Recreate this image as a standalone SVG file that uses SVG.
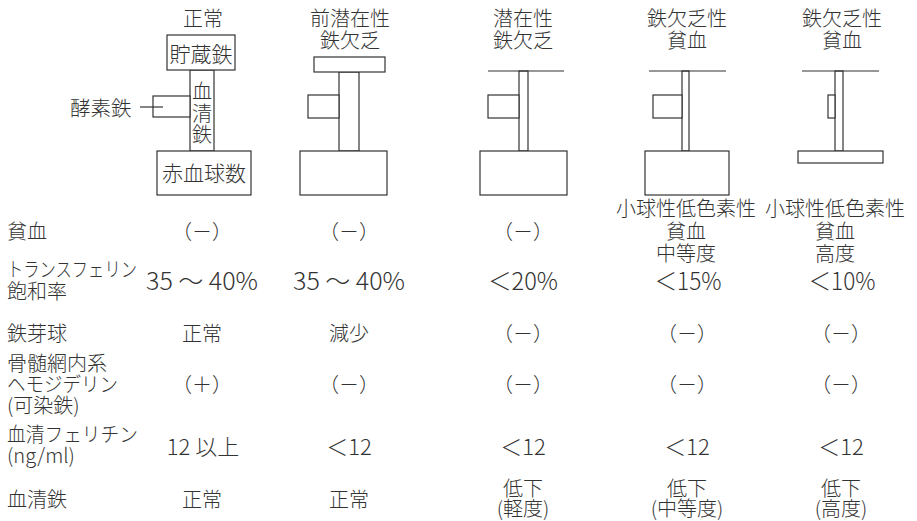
<svg xmlns="http://www.w3.org/2000/svg" width="917" height="521" viewBox="0 0 917 521">
<style>
text{font-family:"Noto Sans CJK JP","Noto Sans CJK SC",sans-serif;fill:#333;font-size:20px;font-weight:300}
.c{text-anchor:middle}
.num{font-size:24px}
.num2{font-size:22px}
.sh{fill:#fff;stroke:#333;stroke-width:1.2}
.ln{fill:none;stroke:#333;stroke-width:1.2}
</style>
<rect width="917" height="521" fill="#fff"/>
<g id="col-normal">
<text class="c" x="203" y="26">正常</text>
<rect class="sh" x="190" y="70" width="24" height="81"/>
<rect class="sh" x="167" y="35" width="68" height="35"/>
<text class="c" x="201" y="62" style="font-size:21px">貯蔵鉄</text>
<rect class="sh" x="153" y="96" width="37" height="21"/>
<rect class="sh" x="157" y="151" width="94" height="44"/>
<text class="c" x="204" y="181" style="font-size:21px">赤血球数</text>
<text class="c" x="202" y="99">血<tspan x="202" y="121">清</tspan><tspan x="202" y="142">鉄</tspan></text>
<text x="70" y="116" style="font-size:20.5px">酵素鉄</text>
</g>
<g id="col-prelatent">
<text class="c" x="350" y="26">前潜在性<tspan x="350" y="48">鉄欠乏</tspan></text>
<rect class="sh" x="339" y="72" width="20" height="79"/>
<rect class="sh" x="314" y="57" width="71" height="15"/>
<rect class="sh" x="308" y="95" width="31" height="23"/>
<rect class="sh" x="300" y="151" width="87" height="44"/>
</g>
<g id="col-latent">
<text class="c" x="523" y="26">潜在性<tspan x="523" y="48">鉄欠乏</tspan></text>
<rect class="sh" x="519" y="71" width="9" height="80"/>
<line class="ln" x1="488" y1="71" x2="564" y2="71"/>
<rect class="sh" x="488" y="95" width="31" height="23"/>
<rect class="sh" x="480" y="151" width="87" height="44"/>
</g>
<g id="col-ida-moderate">
<text class="c" x="687" y="26">鉄欠乏性<tspan x="687" y="48">貧血</tspan></text>
<rect class="sh" x="682" y="71" width="7" height="80"/>
<line class="ln" x1="649" y1="71" x2="726" y2="71"/>
<rect class="sh" x="653" y="95" width="29" height="23"/>
<rect class="sh" x="645" y="151" width="84" height="44"/>
</g>
<g id="col-ida-severe">
<text class="c" x="842" y="26">鉄欠乏性<tspan x="842" y="48">貧血</tspan></text>
<rect class="sh" x="835" y="71" width="8" height="80"/>
<line class="ln" x1="802" y1="71" x2="879" y2="71"/>
<rect class="sh" x="828" y="95" width="7" height="23"/>
<rect class="sh" x="798" y="151" width="85" height="12"/>
</g>
<g id="connectors">
<line class="ln" x1="140" y1="107" x2="163" y2="107"/>
</g>
<g id="row-anemia">
<text x="7" y="239">貧血</text>
<text class="c" x="202" y="239">（－）</text>
<text class="c" x="349" y="239">（－）</text>
<text class="c" x="523" y="239">（－）</text>
<text class="c" x="686" y="216">小球性低色素性<tspan x="686" y="238.5">貧血</tspan><tspan x="686" y="261">中等度</tspan></text>
<text class="c" x="835" y="216">小球性低色素性<tspan x="835" y="238.5">貧血</tspan><tspan x="835" y="261">高度</tspan></text>
</g>
<g id="row-transferrin">
<text x="7" y="277"><tspan textLength="130" lengthAdjust="spacingAndGlyphs">トランスフェリン</tspan><tspan x="7" y="299">飽和率</tspan></text>
<text class="c num" x="202" y="290" textLength="112" lengthAdjust="spacingAndGlyphs">35 〜 40%</text>
<text class="c num" x="349" y="290" textLength="112" lengthAdjust="spacingAndGlyphs">35 〜 40%</text>
<text class="c num" x="523" y="290" textLength="70" lengthAdjust="spacingAndGlyphs">＜20%</text>
<text class="c num" x="688" y="290" textLength="67" lengthAdjust="spacingAndGlyphs">＜15%</text>
<text class="c num" x="842" y="290" textLength="67" lengthAdjust="spacingAndGlyphs">＜10%</text>
</g>
<g id="row-sideroblast">
<text x="7" y="341">鉄芽球</text>
<text class="c" x="202" y="341">正常</text>
<text class="c" x="349" y="341">減少</text>
<text class="c" x="523" y="341">（－）</text>
<text class="c" x="687" y="341">（－）</text>
<text class="c" x="841" y="341">（－）</text>
</g>
<g id="row-hemosiderin">
<text x="7" y="371">骨髄網内系<tspan x="7" y="392" textLength="111" lengthAdjust="spacingAndGlyphs">ヘモジデリン</tspan><tspan x="7" y="413">(可染鉄)</tspan></text>
<text class="c" x="202" y="392">（＋）</text>
<text class="c" x="349" y="392">（－）</text>
<text class="c" x="523" y="392">（－）</text>
<text class="c" x="687" y="392">（－）</text>
<text class="c" x="841" y="392">（－）</text>
</g>
<g id="row-ferritin">
<text x="7" y="442"><tspan textLength="131" lengthAdjust="spacingAndGlyphs">血清フェリチン</tspan><tspan x="7" y="463">(ng/ml)</tspan></text>
<text class="c num2" x="203" y="455">12 以上</text>
<text class="c num2" x="349" y="455">＜12</text>
<text class="c num2" x="523" y="455">＜12</text>
<text class="c num2" x="687" y="455">＜12</text>
<text class="c num2" x="841" y="455">＜12</text>
</g>
<g id="row-serum-iron">
<text x="7" y="507">血清鉄</text>
<text class="c" x="202" y="507">正常</text>
<text class="c" x="349" y="507">正常</text>
<text class="c" x="523" y="496">低下<tspan x="523" y="516">(軽度)</tspan></text>
<text class="c" x="687" y="496">低下<tspan x="687" y="516">(中等度)</tspan></text>
<text class="c" x="841" y="496">低下<tspan x="841" y="516">(高度)</tspan></text>
</g>
</svg>
